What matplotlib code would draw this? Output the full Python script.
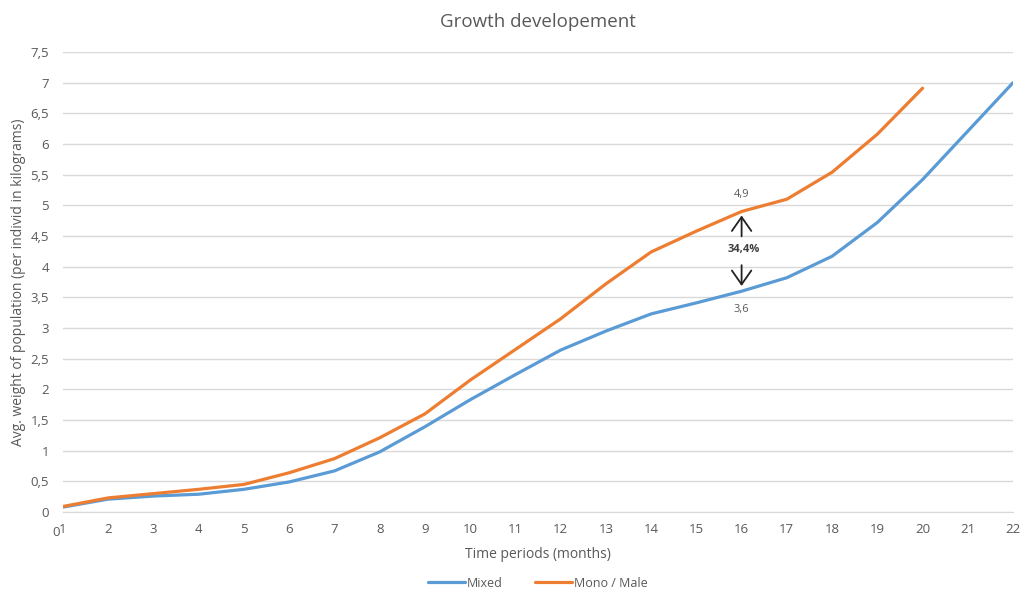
import matplotlib
matplotlib.use("Agg")
import matplotlib.pyplot as plt
import numpy as np

plt.rcParams["font.family"] = ["Open Sans", "DejaVu Sans"]

months = list(range(1, 23))
mixed = [0.08, 0.21, 0.26, 0.29, 0.37, 0.49, 0.67, 0.98, 1.39, 1.83, 2.24,
         2.64, 2.95, 3.23, 3.41, 3.60, 3.82, 4.17, 4.72, 5.42, 6.21, 7.00]
mono_male = [0.09, 0.23, 0.30, 0.37, 0.45, 0.64, 0.87, 1.21, 1.60, 2.15,
             2.65, 3.15, 3.72, 4.24, 4.58, 4.90, 5.10, 5.54, 6.16, 6.91]
y_ticks = [0, 0.5, 1, 1.5, 2, 2.5, 3, 3.5, 4, 4.5, 5, 5.5, 6, 6.5, 7, 7.5]
y_labels = [f"{v:g}".replace(".", ",") for v in y_ticks]

# comparison at month 16
cmp_month = 16
cmp_high, cmp_low = 4.9, 3.6
cmp_pct = "34,4%"

BLUE = "#5B9BD5"
ORANGE = "#ED7D31"
GRAY = "#595959"

fig = plt.figure(figsize=(10.21, 5.98), dpi=100)
ax = fig.add_axes([0.0617, 0.1438, 0.9305, 0.7692])

ax.plot(months, mixed, color=BLUE, lw=2.3, label="Mixed", solid_capstyle="round")
ax.plot(months[:len(mono_male)], mono_male, color=ORANGE, lw=2.3,
        label="Mono / Male", solid_capstyle="round")

ax.set_xlim(1, 22)
ax.set_ylim(0, 7.5)
ax.set_xticks(months)
ax.set_xticklabels([str(m) for m in months])
ax.set_yticks(y_ticks)
ax.set_yticklabels(y_labels)
ax.tick_params(length=0, labelsize=9.5, colors=GRAY, pad=8)
ax.tick_params(axis="y", pad=10)
ax.grid(axis="y", color="#D9D9D9", lw=1)
ax.set_axisbelow(True)
for s in ["top", "right", "left"]:
    ax.spines[s].set_visible(False)
ax.spines["bottom"].set_color("#D9D9D9")

# stray "0" label overlapping the first month label
ax.annotate("0", xy=(1, 0), xycoords="data", xytext=(-5, -15),
            textcoords="offset points", ha="center", va="center",
            fontsize=9.5, color=GRAY)

ax.set_title("Growth developement", fontsize=13.5, color=GRAY, pad=18)
ax.set_xlabel("Time periods (months)", fontsize=10, color=GRAY, labelpad=8)
ax.set_ylabel("Avg. weight of population (per individ in kilograms)",
              fontsize=10, color=GRAY, labelpad=3)

# difference annotation
ax.annotate(f"{cmp_high:g}".replace(".", ","), xy=(cmp_month, cmp_high),
            xytext=(0, 12), textcoords="offset points", ha="center",
            va="center", fontsize=8, color=GRAY)
ax.annotate(f"{cmp_low:g}".replace(".", ","), xy=(cmp_month, cmp_low),
            xytext=(0, -13), textcoords="offset points", ha="center",
            va="center", fontsize=8, color=GRAY)
mid = (cmp_high + cmp_low) / 2
ax.text(cmp_month + 0.05, mid + 0.03, cmp_pct, ha="center", va="center",
        fontsize=8, color="#404040", fontweight="bold")
ax.annotate("", xy=(cmp_month, cmp_high - 0.02), xytext=(cmp_month, mid + 0.2),
            arrowprops=dict(arrowstyle="->,head_length=0.5,head_width=0.35",
                            color="#222222", lw=1.3, mutation_scale=20))
ax.annotate("", xy=(cmp_month, cmp_low + 0.04), xytext=(cmp_month, mid - 0.18),
            arrowprops=dict(arrowstyle="->,head_length=0.5,head_width=0.35",
                            color="#222222", lw=1.3, mutation_scale=20))

leg = fig.legend(loc="lower center", bbox_to_anchor=(0.527, -0.005), ncol=2,
                 frameon=False, fontsize=9, handlelength=2.9,
                 columnspacing=2.6, handletextpad=0.2)
for t in leg.get_texts():
    t.set_color(GRAY)

fig.savefig("out.png", dpi=100)
